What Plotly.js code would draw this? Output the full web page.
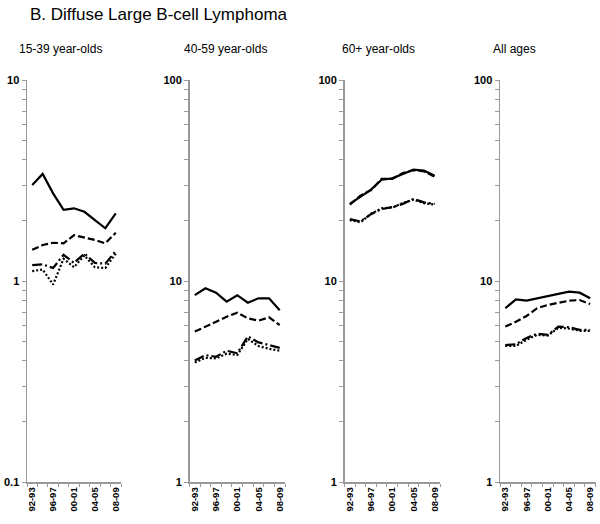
<!DOCTYPE html>
<html>
<head>
<meta charset="utf-8">
<script src="https://cdn.plot.ly/plotly-3.0.1.min.js"></script>
<style>
html,body{margin:0;padding:0;background:#fff;}
#chart{width:600px;height:524px;}
</style>
</head>
<body>
<div id="chart"></div>
<script>
// Periods (2-year groups)
var periods = ["92-93","94-95","96-97","98-99","00-01","02-03","04-05","06-07","08-09"];
var labelPeriods = ["92-93","96-97","00-01","04-05","08-09"];

var panelTitles = ["15-39 year-olds","40-59 year-olds","60+ year-olds","All ages"];
var seriesNames = ["Series 1","Series 2","Series 3","Series 4"];

// 15-39 year-olds
var p1_s1 = [3.00, 3.41, 2.73, 2.26, 2.30, 2.21, 2.01, 1.83, 2.17];
var p1_s2 = [1.43, 1.51, 1.55, 1.54, 1.69, 1.65, 1.60, 1.54, 1.74];
var p1_s3 = [1.20, 1.21, 1.16, 1.35, 1.23, 1.37, 1.23, 1.22, 1.41];
var p1_s4 = [1.12, 1.14, 0.96, 1.29, 1.17, 1.34, 1.17, 1.16, 1.37];

// 40-59 year-olds
var p2_s1 = [8.50, 9.20, 8.75, 7.90, 8.50, 7.80, 8.20, 8.20, 7.15];
var p2_s2 = [5.60, 5.93, 6.27, 6.64, 6.96, 6.52, 6.35, 6.60, 6.04];
var p2_s3 = [4.02, 4.28, 4.20, 4.50, 4.37, 5.30, 4.95, 4.80, 4.65];
var p2_s4 = [3.93, 4.15, 4.12, 4.35, 4.28, 5.15, 4.75, 4.60, 4.50];

// 60+ year-olds
var p3_s1 = [24.2, 26.4, 28.5, 31.9, 32.4, 34.1, 35.8, 35.4, 33.4];
var p3_s2 = [24.0, 26.6, 28.3, 32.2, 32.2, 34.4, 35.6, 35.1, 33.0];
var p3_s3 = [20.3, 19.8, 21.5, 22.8, 23.3, 24.2, 25.6, 24.6, 24.2];
var p3_s4 = [20.1, 19.6, 21.6, 23.0, 23.2, 24.4, 25.4, 24.4, 24.0];

// All ages
var p4_s1 = [7.32, 8.11, 7.98, 8.20, 8.42, 8.59, 8.85, 8.75, 8.20];
var p4_s2 = [5.93, 6.27, 6.70, 7.32, 7.60, 7.80, 7.98, 8.04, 7.68];
var p4_s3 = [4.80, 4.85, 5.20, 5.47, 5.39, 5.93, 5.89, 5.71, 5.71];
var p4_s4 = [4.75, 4.75, 5.10, 5.40, 5.35, 5.85, 5.80, 5.65, 5.65];

// y-axis decade labels
var decadesLow = [0.1, 1, 10];
var decadesHigh = [1, 10, 100];

var panels = [
  [p1_s1, p1_s2, p1_s3, p1_s4],
  [p2_s1, p2_s2, p2_s3, p2_s4],
  [p3_s1, p3_s2, p3_s3, p3_s4],
  [p4_s1, p4_s2, p4_s3, p4_s4]
];

var dashes = ["solid", "7px,3px", "10px,3px,2px,3px", "2px,2px"];
var xIdx = periods.map(function(_, i){ return i; });

var W = 600, H = 524, T = 80, B = 42;
var domainsPx = [[27, 121], [189.5, 285], [344.5, 440], [500, 595.5]];
var titleXpx = [17, 182, 340, 491];
var FONT = "Arial, 'Liberation Sans', sans-serif";

function logTicks(decades) {
  var vals = [], text = [];
  decades.forEach(function(d, i){
    vals.push(d); text.push(String(d));
    if (i < decades.length - 1) {
      for (var m = 2; m <= 9; m++) { vals.push(+(d * m).toPrecision(6)); text.push(""); }
    }
  });
  return {vals: vals, text: text};
}

var traces = [];
panels.forEach(function(series, p){
  var ax = p === 0 ? "" : String(p + 1);
  series.forEach(function(vals, s){
    traces.push({
      type: "scatter", mode: "lines",
      x: xIdx, y: vals, name: seriesNames[s],
      xaxis: "x" + ax, yaxis: "y" + ax,
      line: {color: "#000", width: 2.2, dash: dashes[s]},
      showlegend: false, hoverinfo: "skip"
    });
  });
});

var layout = {
  width: W, height: H,
  margin: {l: 0, r: 0, t: T, b: B, pad: 0},
  paper_bgcolor: "#fff", plot_bgcolor: "#fff",
  font: {family: FONT, color: "#000"},
  showlegend: false,
  title: {
    text: "B. Diffuse Large B-cell Lymphoma",
    x: 30 / W, xanchor: "left", xref: "container",
    y: 1 - 14 / H, yanchor: "middle", yref: "container",
    font: {size: 17, color: "#000", family: FONT}
  },
  annotations: []
};

for (var p = 0; p < 4; p++) {
  var ax = p === 0 ? "" : String(p + 1);
  var xa = "xaxis" + ax, ya = "yaxis" + ax;
  var dec = p === 0 ? decadesLow : decadesHigh;
  var yt = logTicks(dec);
  layout[xa] = {
    domain: [domainsPx[p][0] / W, domainsPx[p][1] / W],
    anchor: "y" + ax,
    range: [-0.5, 8.5],
    showgrid: false, zeroline: false,
    showline: true, linecolor: "#9a9a9a", linewidth: 1.5,
    tickmode: "array",
    tickvals: labelPeriods.map(function(l){ return periods.indexOf(l); }),
    ticktext: labelPeriods,
    ticks: "", tickangle: -90,
    tickfont: {size: 9.5, color: "#000", weight: "bold", family: FONT},
    minor: {tick0: -0.5, dtick: 1, ticks: "outside", ticklen: 3, tickcolor: "#9a9a9a", tickwidth: 1, showgrid: false},
    fixedrange: true
  };
  layout[ya] = {
    domain: [0, 1],
    anchor: "x" + ax,
    type: "log",
    range: [Math.log10(dec[0]), Math.log10(dec[dec.length - 1])],
    showgrid: false, zeroline: false,
    showline: true, linecolor: "#9a9a9a", linewidth: 1.5,
    tickmode: "array",
    tickvals: yt.vals,
    ticktext: yt.text,
    ticks: "outside", ticklen: 4, tickcolor: "#9a9a9a", tickwidth: 1,
    tickfont: {size: 11, color: "#000", weight: "bold", family: FONT},
    fixedrange: true
  };
  layout.annotations.push({
    text: panelTitles[p],
    xref: "paper", yref: "paper",
    x: titleXpx[p] / W, xanchor: "left",
    y: (H - B - 49) / (H - T - B), yanchor: "middle",
    showarrow: false,
    font: {size: 12, color: "#000", family: FONT}
  });
}

Plotly.newPlot("chart", traces, layout, {displayModeBar: false, staticPlot: true});
</script>
</body>
</html>
